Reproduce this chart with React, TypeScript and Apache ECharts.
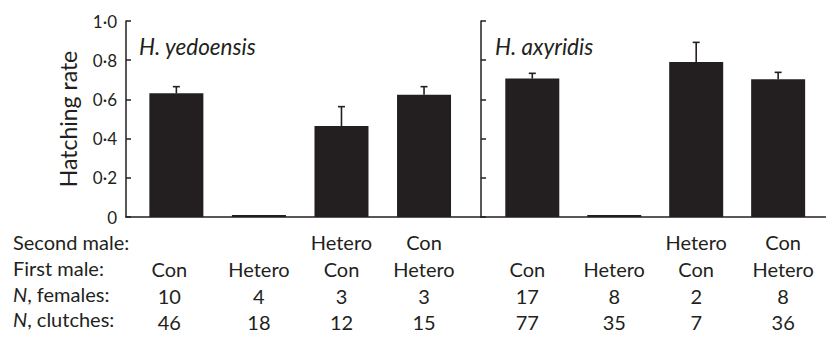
import { useEffect, useRef } from 'react';
import * as echarts from 'echarts';

const FONT = 'Lato';
const INK = '#231f20';

// ---- data ----
const speciesNames = ['H. yedoensis', 'H. axyridis'];
const secondMale = ['', '', 'Hetero', 'Con'];
const firstMale = ['Con', 'Hetero', 'Con', 'Hetero'];

const yedoensisRate = [0.631, 0.01, 0.464, 0.624];
const yedoensisErr = [0.034, 0, 0.099, 0.041];
const yedoensisFemales = [10, 4, 3, 3];
const yedoensisClutches = [46, 18, 12, 15];

const axyridisRate = [0.706, 0.01, 0.791, 0.703];
const axyridisErr = [0.027, 0, 0.1, 0.035];
const axyridisFemales = [17, 8, 2, 8];
const axyridisClutches = [77, 35, 7, 36];

const rowLabels = ['Second male:', 'First male:', '{i|N}, females:', '{i|N}, clutches:'];
const yAxisTitle = 'Hatching rate';

// layout tweaks (pixel nudges of table columns relative to bar centres)
const colNudge = [
  [-7, 0, 0, 0],
  [-5, 0, 0, 5],
];

export default function App() {
  const ref = useRef<HTMLDivElement>(null);

  useEffect(() => {
    const chart = echarts.init(ref.current!, undefined, { renderer: 'svg' });

    const panels = [
      { rate: yedoensisRate, err: yedoensisErr, females: yedoensisFemales, clutches: yedoensisClutches, range: [-0.61, 3.69] },
      { rate: axyridisRate, err: axyridisErr, females: axyridisFemales, clutches: axyridisClutches, range: [-0.626, 3.584] },
    ];

    const grids = [
      { left: 126, top: 21, width: 355, height: 196 },
      { left: 481, top: 21, width: 345, height: 196 },
    ];

    const TABLE_FS = 20;
    const LH = 26.7;

    const xAxes = panels.map((p, k) => {
      const rich: any = {};
      colNudge[k].forEach((n, i) => {
        rich['c' + i] = {
          fontFamily: FONT,
          fontSize: TABLE_FS,
          color: INK,
          lineHeight: LH,
          padding: n < 0 ? [0, -2 * n, 0, 0] : [0, 0, 0, 2 * n],
        };
      });
      return {
        type: 'value',
        gridIndex: k,
        min: p.range[0],
        max: p.range[1],
        axisLine: { show: true, onZero: false, lineStyle: { color: INK, width: 1.5 } },
        axisTick: { show: false },
        splitLine: { show: false },
        axisLabel: {
          customValues: [0, 1, 2, 3],
          formatter: (v: number) => {
            const i = Math.round(v);
            return [secondMale[i] || ' ', firstMale[i], String(p.females[i]), String(p.clutches[i])]
              .map((s) => `{c${i}|${s}}`)
              .join('\n');
          },
          rich,
          fontFamily: FONT,
          fontSize: TABLE_FS,
          color: INK,
          lineHeight: LH,
          margin: 12,
        },
      };
    });

    const yAxes = panels.map((_, k) => ({
      type: 'value',
      gridIndex: k,
      min: 0,
      max: 1,
      interval: 0.2,
      name: k === 0 ? yAxisTitle : '',
      nameLocation: 'middle',
      nameGap: 47,
      nameTextStyle: { fontFamily: FONT, fontSize: 23, color: INK },
      axisLine: { show: true, onZero: false, lineStyle: { color: INK, width: 1.5 } },
      axisTick: { show: true, inside: true, length: 5, lineStyle: { color: INK, width: 1.5 } },
      splitLine: { show: false },
      axisLabel: {
        show: k === 0,
        margin: 9,
        fontFamily: FONT,
        fontSize: 17,
        color: INK,
        formatter: (v: number) => (v === 0 ? '0' : v.toFixed(1).replace('.', '·')),
      },
    }));

    const series: any[] = [];
    panels.forEach((p, k) => {
      series.push({
        type: 'bar',
        xAxisIndex: k,
        yAxisIndex: k,
        barWidth: 54,
        itemStyle: { color: INK },
        data: p.rate.map((v, i) => [i, v]),
        z: 2,
      });
      series.push({
        type: 'custom',
        xAxisIndex: k,
        yAxisIndex: k,
        z: 3,
        data: p.rate.map((v, i) => [i, v, p.err[i]]),
        renderItem: (_params: any, api: any) => {
          const x = api.value(0);
          const v = api.value(1);
          const e = api.value(2);
          if (!(e > 0)) return { type: 'group', children: [] };
          const p0 = api.coord([x, v]);
          const p1 = api.coord([x, v + e]);
          const st = { stroke: INK, lineWidth: 1.6 };
          return {
            type: 'group',
            children: [
              { type: 'line', shape: { x1: p0[0], y1: p0[1], x2: p1[0], y2: p1[1] }, style: st },
              { type: 'line', shape: { x1: p1[0] - 3.5, y1: p1[1], x2: p1[0] + 3.5, y2: p1[1] }, style: st },
            ],
          };
        },
      });
    });

    const rowY = [242, 268, 293.5, 319];
    const graphic: any[] = [
      {
        type: 'text', x: 139, y: 46.5,
        style: { text: speciesNames[0], fontFamily: FONT, fontSize: 22.5, fontStyle: 'italic', fill: INK, align: 'left', verticalAlign: 'middle' },
      },
      {
        type: 'text', x: 495, y: 46,
        style: { text: speciesNames[1], fontFamily: FONT, fontSize: 22.5, fontStyle: 'italic', fill: INK, align: 'left', verticalAlign: 'middle' },
      },
      ...rowLabels.map((t, r) => ({
        type: 'text', x: 13, y: rowY[r],
        style: {
          text: t, fontFamily: FONT, fontSize: TABLE_FS, fill: INK, align: 'left', verticalAlign: 'middle',
          rich: { i: { fontFamily: FONT, fontSize: TABLE_FS, fontStyle: 'italic', fill: INK } },
        },
      })),
    ];

    chart.setOption({
      animation: false,
      backgroundColor: '#ffffff',
      grid: grids,
      xAxis: xAxes,
      yAxis: yAxes,
      series,
      graphic,
    });

    return () => chart.dispose();
  }, []);

  return <div ref={ref} style={{ position: 'absolute', left: 0, top: 0, width: 826, height: 339 }} />;
}
